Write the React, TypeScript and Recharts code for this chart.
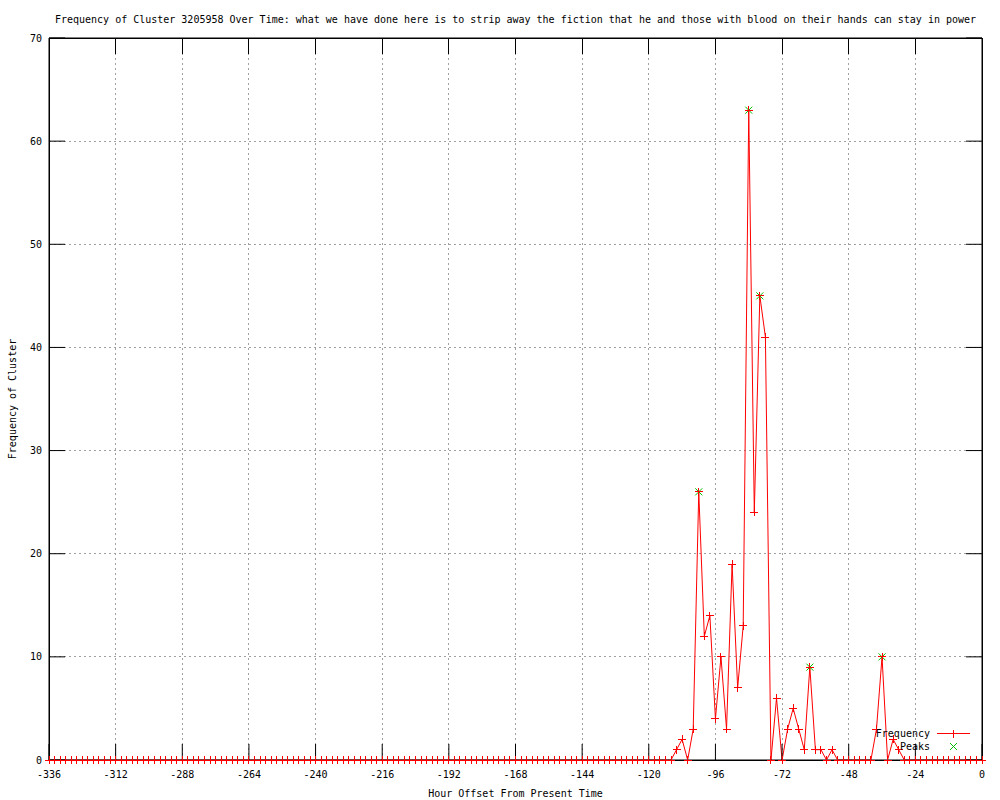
import { ComposedChart, Line, Scatter, XAxis, YAxis, CartesianGrid, Legend, ReferenceArea } from "recharts";

const FONT = "'DejaVu Sans Mono', monospace";
const RED = "#ff0000";
const GREEN = "#00c000";

// one sample every 2 hours, starting at -336
const startHour = -336;
const stepHours = 2;
const frequency = [
  0, 0, 0, 0, 0, 0, 0, 0, 0, 0, 0, 0, 0, 0, 0, 0, 0, 0, 0, 0,
  0, 0, 0, 0, 0, 0, 0, 0, 0, 0, 0, 0, 0, 0, 0, 0, 0, 0, 0, 0,
  0, 0, 0, 0, 0, 0, 0, 0, 0, 0, 0, 0, 0, 0, 0, 0, 0, 0, 0, 0,
  0, 0, 0, 0, 0, 0, 0, 0, 0, 0, 0, 0, 0, 0, 0, 0, 0, 0, 0, 0,
  0, 0, 0, 0, 0, 0, 0, 0, 0, 0, 0, 0, 0, 0, 0, 0, 0, 0, 0, 0,
  0, 0, 0, 0, 0, 0, 0, 0, 0, 0, 0, 0, 0,
  1, 2, 0, 3, 26, 12, 14, 4, 10, 3, 19, 7, 13, 63, 24, 45, 41, 0, 6, 0,
  3, 5, 3, 1, 9, 1, 1, 0, 1, 0, 0, 0, 0, 0, 0, 0, 3, 10, 0, 2, 1,
  0, 0, 0, 0, 0, 0, 0, 0, 0, 0, 0, 0, 0, 0, 0,
];

const peakHours = [-102, -84, -80, -62, -36];
const peakValues = [26, 63, 45, 9, 10];

const xTicks = [-336, -312, -288, -264, -240, -216, -192, -168, -144, -120, -96, -72, -48, -24, 0];
const yTicks = [0, 10, 20, 30, 40, 50, 60, 70];
const Y_MAX = 70;

const TITLE =
  "Frequency of Cluster 3205958 Over Time: what we have done here is to strip away the fiction that he and those with blood on their hands can stay in power";

const rows = frequency.map((f, i) => ({ hour: startHour + i * stepHours, freq: f }));
const peaks = peakHours.map((h, i) => ({ hour: h, freq: peakValues[i] }));
// anchors for the inward tick marks along the top border
const topTickRows = xTicks.map((t) => ({ hour: t, freq: Y_MAX }));

const PlusDot = (p: any) => {
  const { cx, cy } = p;
  if (cx == null || cy == null) return <g key={p.key} />;
  return (
    <path
      key={p.key}
      d={`M${cx - 4},${cy}h8M${cx},${cy - 4}v8`}
      stroke={RED}
      strokeWidth={1}
      fill="none"
      shapeRendering="crispEdges"
    />
  );
};

const CrossShape = (p: any) => {
  const { cx, cy } = p;
  return (
    <path
      d={`M${cx - 3.5},${cy - 3.5}l7,7M${cx - 3.5},${cy + 3.5}l7,-7`}
      stroke={GREEN}
      strokeWidth={1}
      fill="none"
    />
  );
};

const TopTick = (p: any) => {
  const { cx, cy } = p;
  return <path d={`M${cx},${cy}v16`} stroke="#000" strokeWidth={1} fill="none" shapeRendering="crispEdges" />;
};

// mirrored axes only carry tick marks, no labels
const NoLabel = () => <g />;

const TitleLabel = (p: any) => {
  const vb = p.viewBox;
  return (
    <text x={vb.x + vb.width / 2} y={23} textAnchor="middle" fontFamily={FONT} fontSize={10} fill="#000">
      {TITLE}
    </text>
  );
};

const XTitle = (p: any) => {
  const vb = p.viewBox;
  return (
    <text x={vb.x + vb.width / 2} y={vb.y + 37} textAnchor="middle" fontFamily={FONT} fontSize={10} fill="#000">
      Hour Offset From Present Time
    </text>
  );
};

const YTitle = (p: any) => {
  const vb = p.viewBox;
  const cy = vb.y + vb.height / 2;
  return (
    <text
      x={16}
      y={cy}
      transform={`rotate(-90 16 ${cy})`}
      textAnchor="middle"
      fontFamily={FONT}
      fontSize={10}
      fill="#000"
    >
      Frequency of Cluster
    </text>
  );
};

const LegendBox = () => (
  <div style={{ fontFamily: FONT, fontSize: 10, color: "#000", lineHeight: "13px" }}>
    <div style={{ display: "flex", alignItems: "center", height: 13 }}>
      <span style={{ width: 70, textAlign: "right" }}>Frequency</span>
      <svg width={40} height={13} style={{ marginLeft: 7 }}>
        <path d="M0,6.5h33M16.5,2.5v8M12.5,6.5h8" stroke={RED} fill="none" shapeRendering="crispEdges" />
      </svg>
    </div>
    <div style={{ display: "flex", alignItems: "center", height: 13 }}>
      <span style={{ width: 70, textAlign: "right" }}>Peaks</span>
      <svg width={40} height={13} style={{ marginLeft: 7 }}>
        <path d="M13,3l7,7M13,10l7,-7" stroke={GREEN} fill="none" />
      </svg>
    </div>
  </div>
);

export default function App() {
  const tickStyle = { fill: "#000", fontSize: 10, fontFamily: FONT };
  return (
    <div style={{ position: "absolute", left: 0, top: 0, background: "#fff" }}>
      <ComposedChart width={1000} height={800} data={rows} margin={{ top: 18, right: 17, bottom: 0, left: 0 }}>
        <CartesianGrid stroke="#a0a0a0" strokeDasharray="2 3" shapeRendering="crispEdges" />
        <XAxis
          dataKey="hour"
          type="number"
          domain={[-336, 0]}
          ticks={xTicks}
          interval={0}
          height={40}
          tick={tickStyle}
          tickSize={-16}
          tickMargin={27}
          axisLine={{ stroke: "#000" }}
          tickLine={{ stroke: "#000" }}
          label={XTitle}
        />
        <XAxis
          xAxisId="top"
          orientation="top"
          dataKey="hour"
          type="number"
          domain={[-336, 0]}
          ticks={xTicks}
          interval={0}
          height={20}
          tick={NoLabel}
          tickLine={false}
          axisLine={{ stroke: "#000" }}
          label={TitleLabel}
        />
        <YAxis
          type="number"
          domain={[0, Y_MAX]}
          ticks={yTicks}
          interval={0}
          width={49}
          tick={tickStyle}
          tickSize={-16}
          tickMargin={23}
          axisLine={{ stroke: "#000" }}
          tickLine={{ stroke: "#000" }}
          label={YTitle}
        />
        <YAxis
          yAxisId="right"
          orientation="right"
          type="number"
          domain={[0, Y_MAX]}
          ticks={yTicks}
          interval={0}
          width={1}
          tick={NoLabel}
          tickSize={-16}
          axisLine={{ stroke: "#000" }}
          tickLine={{ stroke: "#000" }}
        />
        <Scatter
          data={topTickRows}
          dataKey="freq"
          xAxisId="top"
          yAxisId="right"
          shape={TopTick}
          legendType="none"
          isAnimationActive={false}
        />
        <Line
          dataKey="freq"
          stroke={RED}
          strokeWidth={1}
          dot={PlusDot}
          activeDot={false}
          isAnimationActive={false}
          type="linear"
        />
        <Scatter
          data={peaks}
          dataKey="freq"
          xAxisId="top"
          yAxisId="right"
          shape={CrossShape}
          isAnimationActive={false}
        />
        <ReferenceArea
          x1={-336}
          x2={0}
          y1={0}
          y2={Y_MAX}
          stroke="#000"
          fill="none"
          fillOpacity={0}
          shapeRendering="crispEdges"
        />
        <Legend
          layout="horizontal"
          align="center"
          verticalAlign="middle"
          content={LegendBox}
          wrapperStyle={{ position: "absolute", left: 860, top: 727, width: 130, margin: 0 }}
        />
      </ComposedChart>
    </div>
  );
}
